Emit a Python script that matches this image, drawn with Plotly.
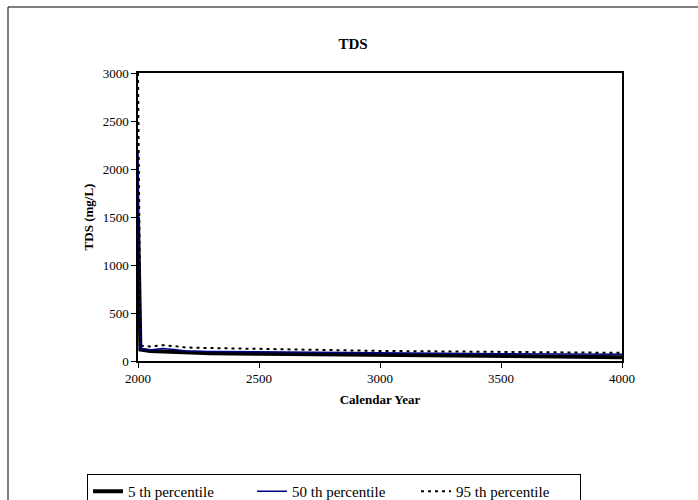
import plotly.graph_objects as go

years = [2000, 2010, 2050, 2100, 2150, 2200, 2300, 2500, 2750, 3000, 3250, 3500, 3750, 4000]
p5 = [1500, 120, 105, 100, 95, 85, 80, 75, 70, 60, 55, 50, 45, 40]
p50 = [2200, 125, 115, 130, 120, 105, 100, 95, 90, 85, 80, 75, 72, 70]
p95 = [3000, 160, 150, 165, 155, 140, 135, 125, 115, 105, 100, 95, 90, 85]

W, H = 698, 500
L, R, T, B = 138, 622, 73, 361

fig = go.Figure()
fig.add_trace(go.Scatter(x=years, y=p5, mode="lines", name="5 th percentile",
                         line=dict(color="black", width=4)))
fig.add_trace(go.Scatter(x=years, y=p50, mode="lines", name="50 th percentile",
                         line=dict(color="#000080", width=1.5)))
fig.add_trace(go.Scatter(x=years, y=p95, mode="lines", name="95 th percentile",
                         line=dict(color="black", width=2, dash="3px,4px")))

pw, ph = R - L, B - T
def px(x):
    return (x - L) / pw
def py(y):
    return (B - y) / ph

font = "Liberation Serif, Times New Roman, serif"
fig.update_layout(
    width=W, height=H,
    margin=dict(l=L, r=W - R, t=T, b=H - B, autoexpand=False),
    paper_bgcolor="white", plot_bgcolor="white",
    font=dict(family=font, size=13, color="black"),
    title=dict(text="<b>TDS</b>", x=353 / W, xanchor="center", y=1 - 44 / H, yanchor="middle",
               font=dict(size=15, family=font)),
    xaxis=dict(range=[2000, 4000], tickvals=[2000, 2500, 3000, 3500, 4000],
               showline=True, linecolor="black", linewidth=1.5, mirror=True,
               ticks="outside", ticklen=5, tickcolor="black", showgrid=False, zeroline=False,
               tickfont=dict(size=13, color="black"),
               title=dict(text="<b>Calendar Year</b>", font=dict(size=13), standoff=10)),
    yaxis=dict(range=[0, 3000], tickvals=[0, 500, 1000, 1500, 2000, 2500, 3000],
               showline=True, linecolor="black", linewidth=1.5, mirror=True,
               ticks="outside", ticklen=5, tickcolor="black", showgrid=False, zeroline=False,
               tickfont=dict(size=13, color="black"),
               title=dict(text="<b>TDS (mg/L)</b>", font=dict(size=13), standoff=6)),
    legend=dict(orientation="h", x=px(87), y=py(474),
                xanchor="left", yanchor="top",
                bordercolor="black", borderwidth=1, bgcolor="white",
                font=dict(size=15, family=font), entrywidth=119, entrywidthmode="pixels",
                tracegroupgap=0),
    showlegend=True,
)

fig.add_shape(type="rect", xref="paper", yref="paper",
              x0=px(8), x1=px(720), y0=py(520), y1=py(7),
              line=dict(color="black", width=1), layer="below")

fig.write_html("out.html")
